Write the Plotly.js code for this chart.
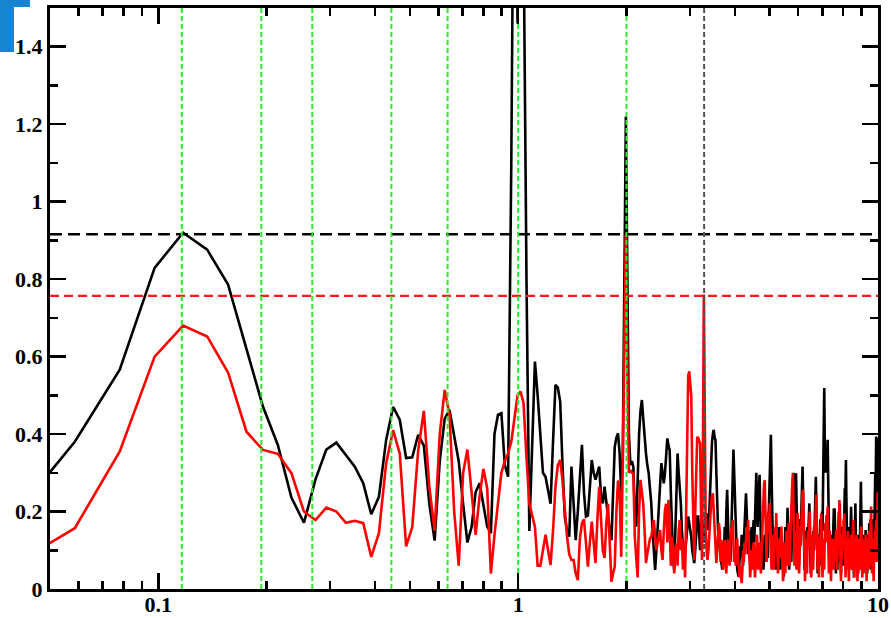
<!DOCTYPE html>
<html>
<head>
<meta charset="utf-8">
<script src="https://cdn.plot.ly/plotly-3.0.1.min.js"></script>
<style>
  html, body { margin: 0; padding: 0; background: #ffffff; }
  #chart { width: 891px; height: 618px; }
</style>
</head>
<body>
<div id="chart"></div>
<script>
// Frequency bins: bin index starts at 2, bin width df
const firstBin = 2;
const df = 0.01953125;

// Black series (bins 2..512)
const blackPower = [
  0.18, 0.38, 0.566, 0.829, 0.92, 0.876, 0.786, 0.62, 0.471, 0.372,
  0.236, 0.171, 0.283, 0.36, 0.378, 0.346, 0.316, 0.273, 0.193, 0.238,
  0.385, 0.47, 0.437, 0.338, 0.34, 0.398, 0.37, 0.22, 0.125, 0.33,
  0.44, 0.462, 0.39, 0.33, 0.22, 0.12, 0.16, 0.25, 0.273, 0.22,
  0.161, 0.144, 0.40, 0.45, 0.454, 0.32, 0.29, 1.1, 2.2, 1.46,
  2.4, 1.7, 0.8, 0.15, 0.35, 0.587, 0.5, 0.385, 0.30, 0.29,
  0.25, 0.22, 0.38, 0.527, 0.52, 0.484, 0.32, 0.187, 0.15, 0.135,
  0.316, 0.22, 0.126, 0.2, 0.3, 0.372, 0.25, 0.187, 0.19, 0.26,
  0.333, 0.30, 0.282, 0.3, 0.316, 0.24, 0.221, 0.264, 0.22, 0.18,
  0.15, 0.126, 0.25, 0.368, 0.39, 0.402, 0.35, 0.25, 0.35, 0.85,
  1.22, 0.8, 0.4, 0.32, 0.33, 0.316, 0.2, 0.161, 0.3, 0.4,
  0.46, 0.488, 0.44, 0.385, 0.35, 0.32, 0.3, 0.26, 0.221, 0.15,
  0.08, 0.049, 0.1, 0.152, 0.22, 0.28, 0.325, 0.3, 0.273, 0.3,
  0.35, 0.389, 0.37, 0.359, 0.25, 0.15, 0.08, 0.049, 0.15, 0.25,
  0.35, 0.3, 0.26, 0.221, 0.15, 0.1, 0.067, 0.09, 0.13, 0.16,
  0.187, 0.17, 0.15, 0.135, 0.1, 0.08, 0.067, 0.1, 0.15, 0.187,
  0.187, 0.12, 0.1, 0.14, 0.187, 0.15, 0.12, 0.16, 0.19, 0.195,
  0.17, 0.152, 0.2, 0.27, 0.33, 0.38, 0.40, 0.411, 0.39, 0.385,
  0.3, 0.2, 0.152, 0.12, 0.1,
  0.09, 0.06, 0.05, 0.12, 0.08, 0.16, 0.11, 0.2, 0.256, 0.18, 0.1, 0.14, 0.07, 0.12, 0.2, 0.28, 0.36, 0.3, 0.22, 0.15,
  0.09, 0.05, 0.04, 0.032, 0.07, 0.11, 0.08, 0.14, 0.1, 0.06, 0.12, 0.16, 0.2, 0.247, 0.2, 0.13, 0.09, 0.15, 0.1, 0.07,
  0.12, 0.16, 0.11, 0.14, 0.178, 0.12, 0.2, 0.26, 0.3, 0.24, 0.16, 0.22, 0.27, 0.295, 0.2, 0.12, 0.06, 0.1, 0.08, 0.05,
  0.09, 0.14, 0.07, 0.12, 0.19, 0.13, 0.08, 0.17, 0.24, 0.3, 0.35, 0.398, 0.3, 0.18, 0.1, 0.06, 0.12, 0.08, 0.15, 0.1,
  0.05, 0.08, 0.13, 0.07, 0.11, 0.16, 0.09, 0.05, 0.1, 0.07, 0.12, 0.08, 0.05, 0.032, 0.06, 0.11, 0.16, 0.12, 0.08, 0.15,
  0.21, 0.14, 0.09, 0.05, 0.1, 0.16, 0.11, 0.07, 0.13, 0.2, 0.26, 0.3, 0.22, 0.28, 0.2, 0.14, 0.299, 0.22, 0.14, 0.08,
  0.16, 0.1, 0.06, 0.12, 0.18, 0.13, 0.2, 0.26, 0.3, 0.316, 0.24, 0.16, 0.09, 0.05, 0.1, 0.15, 0.1, 0.06, 0.11, 0.16,
  0.12, 0.17, 0.2, 0.221, 0.15, 0.09, 0.04, 0.08, 0.13, 0.09, 0.05, 0.1, 0.15, 0.1, 0.16, 0.22, 0.26, 0.29, 0.22, 0.14,
  0.08, 0.04, 0.09, 0.14, 0.1, 0.06, 0.12, 0.18, 0.13, 0.08, 0.14, 0.2, 0.15, 0.24, 0.33, 0.42, 0.519, 0.4, 0.3, 0.34,
  0.3, 0.34, 0.3, 0.36, 0.385, 0.3, 0.2, 0.14, 0.08, 0.12, 0.07, 0.04, 0.09, 0.14, 0.1, 0.06, 0.11, 0.16, 0.19, 0.208,
  0.2, 0.208, 0.14, 0.08, 0.04, 0.09, 0.13, 0.08, 0.05, 0.1, 0.15, 0.11, 0.07, 0.15, 0.22, 0.14, 0.08, 0.04, 0.1, 0.06,
  0.1, 0.16, 0.11, 0.06, 0.12, 0.18, 0.22, 0.26, 0.2, 0.28, 0.333, 0.25, 0.17, 0.1, 0.06, 0.11, 0.16, 0.1, 0.05, 0.09,
  0.13, 0.08, 0.12, 0.17, 0.212, 0.16, 0.1, 0.05, 0.09, 0.14, 0.1, 0.06, 0.03, 0.08, 0.13, 0.18, 0.221, 0.16, 0.1, 0.06,
  0.11, 0.07, 0.12, 0.08, 0.04, 0.09, 0.14, 0.1, 0.06, 0.12, 0.18, 0.23, 0.277, 0.2, 0.13, 0.08, 0.04, 0.09, 0.13, 0.08,
  0.05, 0.1, 0.14, 0.09, 0.05, 0.11, 0.152, 0.1, 0.06, 0.12, 0.08, 0.04, 0.09, 0.14, 0.1, 0.06, 0.11, 0.17, 0.12, 0.07,
  0.12, 0.18, 0.13, 0.08, 0.05, 0.1, 0.16, 0.11, 0.07, 0.12, 0.18, 0.13, 0.08, 0.14, 0.2, 0.26, 0.3, 0.22, 0.3, 0.394,
  0.3, 0.2, 0.12, 0.18, 0.3, 0.39
];

// Red series (bins 2..512)
const redPower = [
  0.06, 0.157, 0.355, 0.60, 0.68, 0.652, 0.559, 0.406, 0.359, 0.349,
  0.299, 0.20, 0.178, 0.21, 0.20, 0.171, 0.176, 0.17, 0.083, 0.144,
  0.325, 0.41, 0.35, 0.11, 0.16, 0.357, 0.46, 0.264, 0.15, 0.40,
  0.514, 0.45, 0.2, 0.06, 0.3, 0.36, 0.25, 0.14, 0.24, 0.31,
  0.26, 0.04, 0.14, 0.22, 0.30, 0.33, 0.35, 0.38, 0.44, 0.5,
  0.51, 0.48, 0.34, 0.22, 0.19, 0.16, 0.06, 0.06, 0.10, 0.14,
  0.10, 0.062, 0.15, 0.264, 0.32, 0.333, 0.28, 0.2, 0.135, 0.09,
  0.075, 0.075, 0.04, 0.023, 0.13, 0.17, 0.18, 0.12, 0.058, 0.12,
  0.174, 0.12, 0.067, 0.18, 0.264, 0.18, 0.1, 0.08, 0.17, 0.22,
  0.1, 0.019, 0.04, 0.058, 0.2, 0.28, 0.25, 0.083, 0.325, 0.6,
  0.915, 0.55, 0.3, 0.307, 0.3, 0.298, 0.135, 0.08, 0.03, 0.2,
  0.282, 0.25, 0.22, 0.15, 0.067, 0.09, 0.11, 0.13, 0.135, 0.16,
  0.178, 0.14, 0.1, 0.12, 0.14, 0.152, 0.1, 0.075, 0.15, 0.204,
  0.22, 0.12, 0.23, 0.17, 0.06, 0.135, 0.1, 0.04, 0.105, 0.118,
  0.06, 0.15, 0.178, 0.1, 0.13, 0.05, 0.118, 0.03, 0.2, 0.4,
  0.55, 0.562, 0.53, 0.497, 0.3, 0.12, 0.075, 0.2, 0.32, 0.393,
  0.39, 0.385, 0.376, 0.2, 0.075, 0.35, 0.76, 0.45, 0.152, 0.1,
  0.075, 0.1, 0.15, 0.2, 0.22, 0.24, 0.247, 0.2, 0.15, 0.1,
  0.067, 0.1, 0.15, 0.17, 0.15,
  0.07, 0.127, 0.09, 0.05, 0.1, 0.127, 0.08, 0.04, 0.11, 0.127, 0.09, 0.06, 0.12, 0.16, 0.13, 0.178, 0.12, 0.07, 0.1, 0.06,
  0.09, 0.13, 0.08, 0.05, 0.03, 0.06, 0.02, 0.015, 0.05, 0.1, 0.07, 0.12, 0.09, 0.14, 0.16, 0.12, 0.178, 0.12, 0.06, 0.03,
  0.07, 0.1, 0.05, 0.08, 0.12, 0.07, 0.03, 0.06, 0.1, 0.14, 0.09, 0.05, 0.08, 0.12, 0.08, 0.04, 0.1, 0.16, 0.22, 0.25,
  0.27, 0.281, 0.2, 0.12, 0.07, 0.13, 0.17, 0.2, 0.15, 0.221, 0.15, 0.09, 0.05, 0.1, 0.14, 0.09, 0.05, 0.11, 0.16, 0.12,
  0.196, 0.13, 0.08, 0.04, 0.09, 0.13, 0.08, 0.12, 0.14, 0.161, 0.1, 0.06, 0.02, 0.07, 0.12, 0.08, 0.04, 0.1, 0.15, 0.1,
  0.06, 0.12, 0.17, 0.11, 0.06, 0.13, 0.18, 0.22, 0.26, 0.28, 0.299, 0.2, 0.12, 0.06, 0.1, 0.15, 0.09, 0.05, 0.13, 0.196,
  0.15, 0.09, 0.04, 0.1, 0.16, 0.11, 0.15, 0.2, 0.23, 0.25, 0.256, 0.18, 0.1, 0.05, 0.02, 0.08, 0.13, 0.09, 0.04, 0.1,
  0.15, 0.11, 0.16, 0.18, 0.2, 0.13, 0.07, 0.03, 0.08, 0.14, 0.09, 0.05, 0.1, 0.16, 0.12, 0.17, 0.2, 0.22, 0.243, 0.17,
  0.1, 0.05, 0.11, 0.07, 0.03, 0.09, 0.14, 0.1, 0.16, 0.195, 0.13, 0.07, 0.03, 0.08, 0.13, 0.09, 0.05, 0.12, 0.17, 0.12,
  0.16, 0.19, 0.15, 0.2, 0.213, 0.14, 0.08, 0.04, 0.1, 0.15, 0.1, 0.05, 0.02, 0.07, 0.12, 0.08, 0.13, 0.09, 0.05, 0.11,
  0.07, 0.12, 0.09, 0.13, 0.15, 0.153, 0.1, 0.05, 0.09, 0.14, 0.18, 0.2, 0.16, 0.23, 0.17, 0.11, 0.06, 0.02, 0.07, 0.12,
  0.08, 0.14, 0.1, 0.15, 0.18, 0.14, 0.195, 0.13, 0.07, 0.03, 0.08, 0.13, 0.09, 0.05, 0.1, 0.15, 0.11, 0.06, 0.02, 0.07,
  0.12, 0.08, 0.13, 0.09, 0.14, 0.1, 0.05, 0.11, 0.15, 0.13, 0.178, 0.12, 0.07, 0.03, 0.08, 0.13, 0.09, 0.05, 0.1, 0.14,
  0.1, 0.06, 0.02, 0.07, 0.12, 0.08, 0.13, 0.09, 0.05, 0.1, 0.14, 0.12, 0.15, 0.161, 0.11, 0.06, 0.03, 0.08, 0.12, 0.08,
  0.04, 0.09, 0.13, 0.09, 0.05, 0.1, 0.14, 0.1, 0.06, 0.02, 0.07, 0.12, 0.08, 0.13, 0.09, 0.05, 0.11, 0.15, 0.11, 0.06,
  0.1, 0.15, 0.19, 0.213, 0.15, 0.09, 0.04, 0.08, 0.13, 0.09, 0.05, 0.02, 0.07, 0.12, 0.08, 0.13, 0.15, 0.11, 0.14, 0.178,
  0.12, 0.07, 0.12, 0.2, 0.25, 0.22
];

// Reference levels and marked frequencies
const blackLevel = 0.916;
const redLevel = 0.757;
const greenFreqs = [0.1162, 0.1933, 0.2678, 0.4443, 0.6366, 1.0, 2.0];
const greyFreq = 3.287;

// Axis ticks
const xMajorTicks = [0.1, 1, 10];
const xMajorLabels = ['0.1', '1', '10'];
const xMinorTicks = [0.06, 0.07, 0.08, 0.09, 0.2, 0.3, 0.4, 0.5, 0.6, 0.7, 0.8, 0.9, 2, 3, 4, 5, 6, 7, 8, 9];
const xMin = 0.05, xMax = 10, yMin = 0, yMax = 1.5;

const freq = blackPower.map((_, i) => (firstBin + i) * df);

function vLines(vals) {
  const xs = [], ys = [];
  vals.forEach(v => { xs.push(v, v, null); ys.push(yMin, yMax, null); });
  return {x: xs, y: ys};
}

const g = vLines(greenFreqs);
const traces = [
  {x: freq, y: blackPower, mode: 'lines', line: {color: '#000000', width: 2.6}, hoverinfo: 'skip'},
  {x: freq, y: redPower, mode: 'lines', line: {color: '#ff0000', width: 2.6}, hoverinfo: 'skip'},
  {x: [xMin, xMax], y: [blackLevel, blackLevel], mode: 'lines', line: {color: '#000000', width: 2.5, dash: '12px,6px'}},
  {x: [xMin, xMax], y: [redLevel, redLevel], mode: 'lines', line: {color: '#ff1a1a', width: 2.2, dash: '9px,5px'}},
  {x: g.x, y: g.y, mode: 'lines', line: {color: '#2ee82e', width: 2, dash: '5px,3px'}},
  {x: [greyFreq, greyFreq], y: [yMin, yMax], mode: 'lines', line: {color: '#505050', width: 2, dash: '5px,3px'}}
];

const tickFont = {family: 'Liberation Serif, Times New Roman, serif', size: 22, color: '#000000', weight: 'bold'};

const layout = {
  width: 891, height: 618,
  margin: {l: 50, r: 13, t: 8, b: 29},
  paper_bgcolor: '#ffffff', plot_bgcolor: '#ffffff',
  showlegend: false,
  xaxis: {
    type: 'log', range: [Math.log10(xMin), Math.log10(xMax)],
    tickmode: 'array', tickvals: xMajorTicks, ticktext: xMajorLabels,
    ticks: 'inside', ticklen: 16, tickwidth: 2.5, tickcolor: '#000000',
    minor: {tickmode: 'array', tickvals: xMinorTicks, ticks: 'inside', ticklen: 8, tickwidth: 2.5, tickcolor: '#000000', showgrid: false},
    showline: true, linewidth: 3, linecolor: '#000000', mirror: 'ticks',
    showgrid: false, zeroline: false, tickfont: tickFont, ticklabelstandoff: -6
  },
  yaxis: {
    range: [yMin, yMax], tick0: 0, dtick: 0.2,
    ticks: 'inside', ticklen: 16, tickwidth: 2.5, tickcolor: '#000000',
    minor: {dtick: 0.1, ticks: 'inside', ticklen: 8, tickwidth: 2.5, tickcolor: '#000000', showgrid: false},
    showline: true, linewidth: 3, linecolor: '#000000', mirror: 'ticks',
    showgrid: false, zeroline: false, tickfont: tickFont
  },
  shapes: [
    {type: 'rect', xref: 'paper', yref: 'paper', x0: -0.0604, x1: -0.0435, y0: 0.9243, y1: 1.02, fillcolor: '#1784d2', line: {width: 0}, layer: 'above'},
    {type: 'rect', xref: 'paper', yref: 'paper', x0: -0.0604, x1: -0.0242, y0: 1.0017, y1: 1.02, fillcolor: '#1784d2', line: {width: 0}, layer: 'above'}
  ]
};

Plotly.newPlot('chart', traces, layout, {displayModeBar: false, staticPlot: true});
</script>
</body>
</html>
